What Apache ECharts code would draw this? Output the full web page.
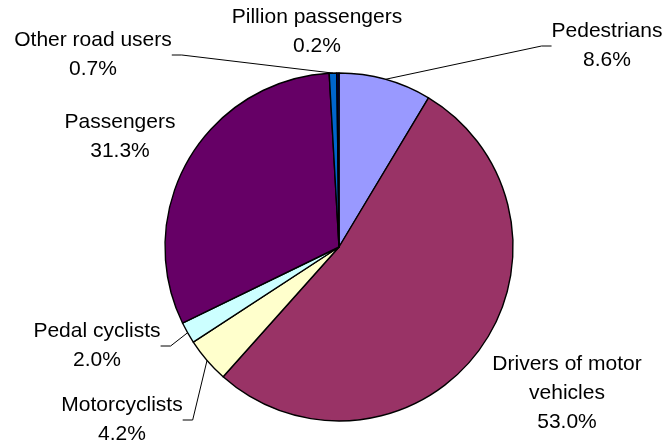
<!DOCTYPE html>
<html>
<head>
<meta charset="utf-8">
<script src="https://cdn.jsdelivr.net/npm/echarts@6/dist/echarts.min.js"></script>
<style>
  html, body { margin: 0; padding: 0; background: #fff; }
  #main { width: 666px; height: 448px; }
</style>
</head>
<body>
<div id="main"></div>
<script>
// road user share, clockwise from 12 o'clock
var categories = ['Pedestrians', 'Drivers of motor\nvehicles', 'Motorcyclists', 'Pedal cyclists',
    'Passengers', 'Other road users', 'Pillion passengers'];
var shares = [8.6, 53.0, 4.2, 2.0, 31.3, 0.7, 0.2];
var colors = ['#9999FF', '#993366', '#FFFFCC', '#CCFFFF', '#660066', '#0066CC', '#000080'];
var showLine = [true, false, true, true, false, true, false];

// where each label sits (centre of the text block)
var labelPos = [
    [607, 46], [567, 393], [122, 420], [97, 346],
    [120, 137], [93, 55], [317, 32]
];

var myChart = echarts.init(document.getElementById('main'));

var option = {
    animation: false,
    series: [{
        type: 'pie',
        center: [339, 247],
        radius: 174,
        startAngle: 90,
        clockwise: true,
        avoidLabelOverlap: false,
        itemStyle: { borderColor: '#000', borderWidth: 1.4 },
        label: {
            color: '#000',
            fontFamily: 'Liberation Sans, Arial, sans-serif',
            fontSize: 21,
            lineHeight: 29,
            align: 'center',
            formatter: function (p) {
                return p.name + '\n' + p.value.toFixed(1) + '%';
            }
        },
        labelLine: {
            lineStyle: { color: '#000', width: 1 },
            length: 10,
            length2: 10
        },
        labelLayout: function (params) {
            var pos = labelPos[params.dataIndex];
            return { x: pos[0], y: pos[1], align: 'center', verticalAlign: 'middle' };
        },
        emphasis: { disabled: true },
        data: categories.map(function (name, i) {
            return {
                name: name,
                value: shares[i],
                itemStyle: { color: colors[i] },
                labelLine: { show: showLine[i] }
            };
        })
    }]
};

myChart.setOption(option);
</script>
</body>
</html>
